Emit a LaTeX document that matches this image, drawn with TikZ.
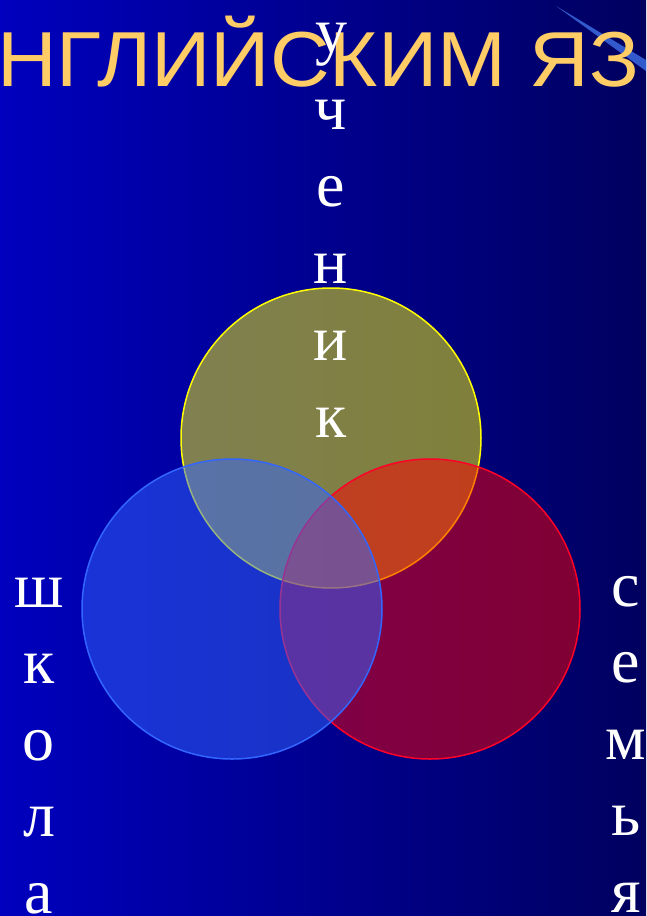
\documentclass[tikz,border=0pt]{standalone}
\usepackage{fontspec}
\setmainfont{Liberation Serif}
\newfontfamily\titlefont{Liberation Sans}
\usetikzlibrary{positioning}
\definecolor{bgleft}{RGB}{0,0,190}
\definecolor{bgright}{RGB}{0,0,95}
\definecolor{titleorange}{RGB}{255,204,102}
\definecolor{streakblue}{RGB}{50,90,205}
\definecolor{studentyellow}{RGB}{255,255,0}
\definecolor{familyred}{RGB}{255,0,40}
\definecolor{schoolblue}{RGB}{51,102,255}
\tikzset{
  word/.style={text=white, font=\fontsize{64}{77}\selectfont,
    anchor=base, inner sep=0pt},
  venn/.style={line width=1.5pt, fill opacity=0.5},
}

\begin{document}
\begin{tikzpicture}[x=1pt, y=-1pt]
  \useasboundingbox (0,0) rectangle (646,916);
  \clip (0,0) rectangle (646,916);

  % background
  \shade[left color=bgleft, right color=bgright] (0,0) rectangle (646,916);
  \fill[streakblue] (556,6) -- (646,60) -- (646,71) -- cycle;

  % title, cut off at both sides
  \node[anchor=base west, inner sep=0pt, text=titleorange, xscale=1.06,
        font=\titlefont\fontsize{78}{90}\selectfont]
    (title) at (-3,86) {НГЛИЙСКИМ ЯЗ};

  % circles
  \draw[venn, draw=studentyellow, fill=studentyellow] (331,438) circle (150);
  \draw[venn, draw=familyred, fill=red] (430,609) circle (150);
  \draw[venn, draw=schoolblue, fill=schoolblue] (232,609) circle (150);

  % vertical words
  \foreach \l [count=\i from 0] in {у,ч,е,н,и,к}
    \node[word] (student\i) at (331,52+77*\i) {\l};
  \foreach \l [count=\i from 0] in {ш,к,о,л,а}
    \node[word] (school\i) at (39,607+76.5*\i) {\l};
  \foreach \l [count=\i from 0] in {с,е,м,ь,я}
    \node[word] (family\i) at (626,606+76.5*\i) {\l};
\end{tikzpicture}
\end{document}
